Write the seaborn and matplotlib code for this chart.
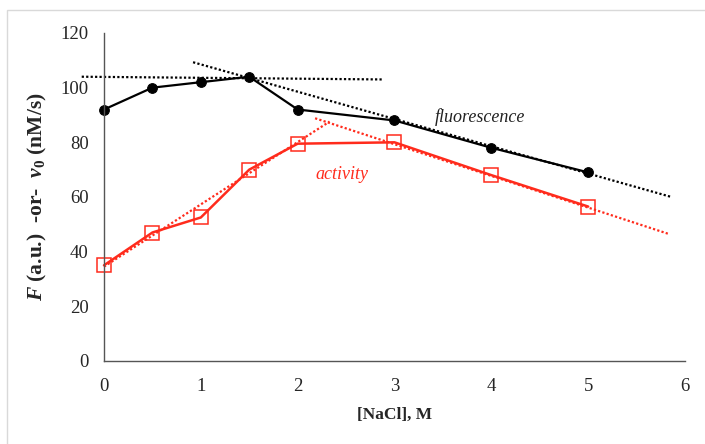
import matplotlib as mpl
mpl.use('Agg')
import matplotlib.pyplot as plt
import seaborn as sns
import pandas as pd
from matplotlib.patches import Rectangle

# data
nacl = [0, 0.5, 1, 1.5, 2, 3, 4, 5]
fluorescence = [92, 100, 102, 104, 92, 88, 78, 69]
activity = [35, 47, 52.5, 70, 79.5, 80, 68, 56.5]

# dotted trend lines (end points)
fl_flat_x = [-0.23, 2.88]
fl_flat_y = [104.0, 103.0]
fl_slope_x = [0.92, 5.85]
fl_slope_y = [109.3, 60.1]
act_rise_x = [0.0, 2.33]
act_rise_y = [34.5, 87.6]
act_fall_x = [2.18, 5.83]
act_fall_y = [88.8, 46.5]

xticks = [0, 1, 2, 3, 4, 5, 6]
yticks = [0, 20, 40, 60, 80, 100, 120]

sns.set_style('white')
plt.rcParams['font.family'] = ['Liberation Serif', 'DejaVu Serif']
plt.rcParams['mathtext.fontset'] = 'custom'
plt.rcParams['mathtext.rm'] = 'Liberation Serif'
plt.rcParams['mathtext.it'] = 'Liberation Serif:italic'
plt.rcParams['mathtext.bf'] = 'Liberation Serif:bold'
plt.rcParams['mathtext.bfit'] = 'Liberation Serif:italic:bold'

RED = '#ff2b1c'
df = pd.DataFrame({'NaCl': nacl, 'F': fluorescence, 'v0': activity})

fig = plt.figure(figsize=(7.05, 4.44), dpi=100)
ax = fig.add_axes([0.1475, 0.187, 0.8241, 0.7387])

# trend lines
ax.plot(fl_flat_x, fl_flat_y, ls=(0, (1, 1)), color='black', lw=1.6, clip_on=False)
ax.plot(fl_slope_x, fl_slope_y, ls=(0, (1, 1)), color='black', lw=1.6)
ax.plot(act_rise_x, act_rise_y, ls=(0, (1, 1)), color=RED, lw=1.6)
ax.plot(act_fall_x, act_fall_y, ls=(0, (1, 1)), color=RED, lw=1.6)

sns.lineplot(data=df, x='NaCl', y='F', ax=ax, color='black', lw=1.6,
             marker='o', markersize=7, markeredgecolor='black', clip_on=False)
sns.lineplot(data=df, x='NaCl', y='v0', ax=ax, color=RED, lw=1.8,
             marker='s', markersize=10, markerfacecolor='none',
             markeredgecolor=RED, markeredgewidth=1.1, clip_on=False)

ax.text(3.88, 89.3, 'fluorescence', style='italic', fontsize=13,
        color='#222222', ha='center', va='center')
ax.text(2.46, 68.4, 'activity', style='italic', fontsize=13,
        color=RED, ha='center', va='center')

ax.set_xlim(0, 6)
ax.set_ylim(0, 120)
ax.set_xticks(xticks)
ax.set_yticks(yticks)
for s in ['top', 'right']:
    ax.spines[s].set_visible(False)
for s in ['left', 'bottom']:
    ax.spines[s].set_color('#555555')
    ax.spines[s].set_linewidth(1.0)
ax.tick_params(axis='both', direction='out', length=5, width=1.0,
               color='#555555', labelsize=13.5, pad=7)
ax.tick_params(axis='y', pad=6)

ax.set_xlabel('[NaCl], M', fontsize=12.5, fontweight='bold', labelpad=9)
ax.set_ylabel(r'$\mathbfit{F}$ (a.u.)  -or-  $\mathbfit{v}_{\mathbf{0}}$ (nM/s)',
              fontsize=15.5, fontweight='bold', labelpad=8)

# outer chart-area border
fig.patches.append(Rectangle((7 / 705, -0.1), 1.2, (444 - 10) / 444 + 0.1,
                             transform=fig.transFigure, fill=False,
                             edgecolor='#d9d9d9', lw=1.0))

fig.savefig('out.png', dpi=100)
